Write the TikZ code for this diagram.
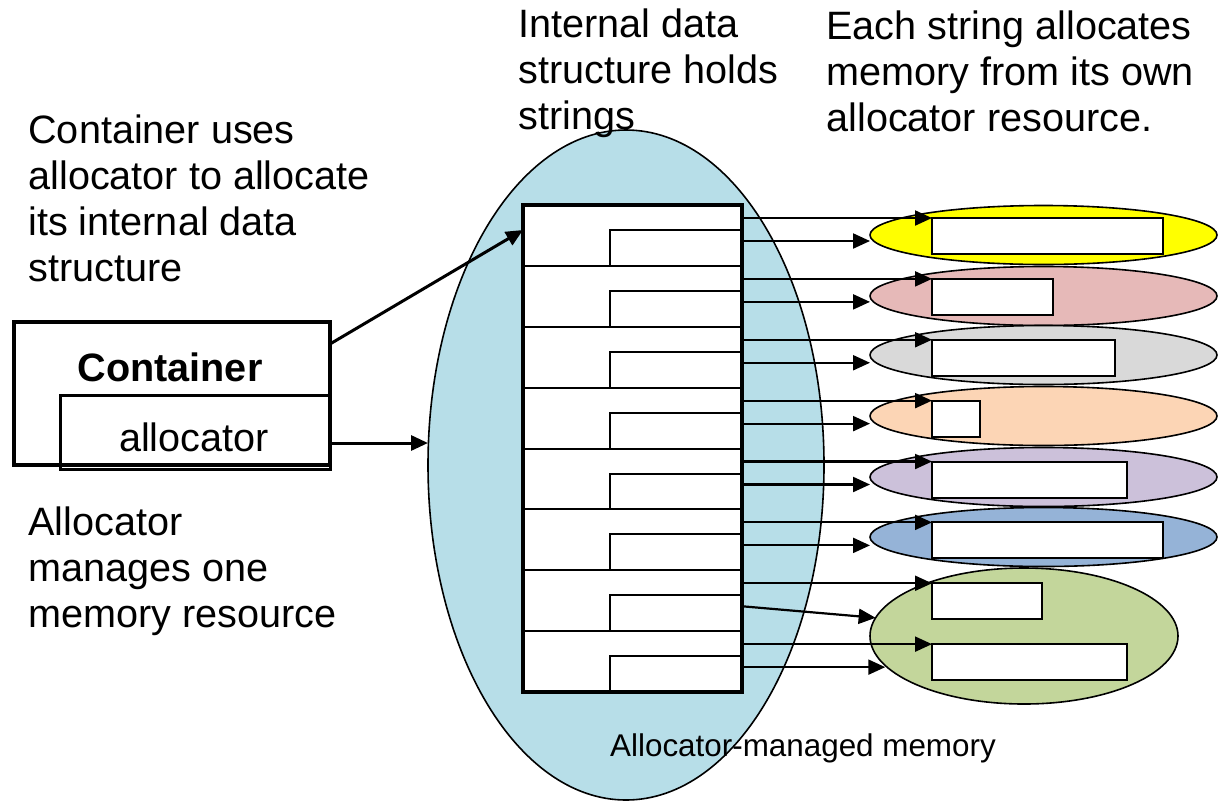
\documentclass[tikz,border=0pt]{standalone}
\usepackage{fontspec}
\setmainfont{Liberation Sans}
\usetikzlibrary{arrows.meta,shapes.geometric}
\definecolor{memblue}{HTML}{B7DEE8}
\definecolor{poolyellow}{HTML}{FFFF00}
\definecolor{poolpink}{HTML}{E6B9B8}
\definecolor{poolgray}{HTML}{D9D9D9}
\definecolor{poolorange}{HTML}{FCD5B5}
\definecolor{poolpurple}{HTML}{CCC1DA}
\definecolor{poolblue}{HTML}{95B3D7}
\definecolor{poolgreen}{HTML}{C3D69B}
\tikzset{
    note/.style={anchor=north west,inner sep=0pt,align=left,font=\fontsize{19.8}{23}\selectfont},
    ptr/.style={line width=1.1pt,-{Triangle[length=8.5pt,width=7.5pt]}},
    pool/.style={draw,ellipse,line width=0.8pt,inner sep=0pt,outer sep=0pt},
    strbox/.style={draw,fill=white,line width=1pt,anchor=north west,minimum height=18pt,inner sep=0pt,outer sep=0pt},
}
\begin{document}
\begin{tikzpicture}[x=0.5pt,y=-0.5pt]
    \useasboundingbox (0,0) rectangle (1225,804);
    %% Allocator-managed memory
    \node[pool,fill=memblue,minimum width=198pt,minimum height=335pt] (mem) at (626,465) {};
    \node[font=\fontsize{15.7}{18}\selectfont] (memlbl) at (803,748) {Allocator-managed memory};
    %% Internal data structure
    \node[draw,fill=white,line width=2.2pt,minimum width=109.5pt,minimum height=243.5pt,
        inner sep=0pt,outer sep=0pt,anchor=north west] (tab) at (523,205) {};
    \foreach \i in {1,...,8} {
        \pgfmathsetmacro\rowtop{205+(\i-1)*60.875}
        \draw[line width=1pt] (523,\rowtop+60.875) -- (742,\rowtop+60.875);
        \draw[line width=1pt] (610,\rowtop+60.875) |- (742,\rowtop+25);
        \coordinate (up\i) at (742,\rowtop+13);
        \coordinate (dn\i) at (742,\rowtop+36);
    }
    \draw[line width=2.2pt] (tab.north west) rectangle (tab.south east);
    %% One memory resource per string
    \foreach \i/\col/\y in {1/poolyellow/235,2/poolpink/296,3/poolgray/355,
                            4/poolorange/416,5/poolpurple/477,6/poolblue/537}
        \node[pool,fill=\col,minimum width=173.5pt,minimum height=29.5pt] (pool\i) at (1043.5,\y) {};
    \node[pool,fill=poolgreen,minimum width=154pt,minimum height=68pt] (pool7) at (1024,636) {};
    %% Strings
    \foreach \i/\len in {1/115.5pt,2/60.5pt,3/91.5pt,4/24pt,5/97.5pt,6/115.5pt,7/55pt,8/97.5pt}
        \node[strbox,minimum width=\len] (str\i) at (932,{205+(\i-1)*60.875+13}) {};
    %% Pointers
    \foreach \i in {1,...,8}
        \draw[ptr] (up\i) -- (str\i.north west);
    \foreach \i in {1,...,6}
        \draw[ptr] (dn\i) -- (dn\i -| pool\i.west);
    \draw[ptr] (dn7) -- (pool7.173);
    \draw[ptr] (dn8) -- (dn8 -| pool7.192);
    %% Container and its allocator
    \node[draw,line width=2pt,minimum width=158pt,minimum height=71.5pt,
        inner sep=0pt,outer sep=0pt,anchor=north west] (cont) at (14,322) {};
    \node[draw,line width=1.5pt,minimum width=135pt,minimum height=37pt,
        inner sep=0pt,outer sep=0pt,anchor=north west] (alloc) at (60,395) {};
    \node[font=\fontsize{19.8}{23}\selectfont\bfseries] (contlbl) at (170,367) {Container};
    \node[font=\fontsize{19.8}{23}\selectfont] (alloclbl) at (194,437) {allocator};
    \draw[ptr,line width=1.5pt] ([yshift=-11pt]cont.north east) -- ([yshift=-12.5pt]tab.north west);
    \draw[ptr,line width=1.5pt] ([yshift=-5.5pt]alloc.east) -- ([yshift=-5.5pt]alloc.east -| mem.west);
    %% Notes
    \node[note] (usenote) at (28,114) {Container uses\\allocator to allocate\\its internal data\\structure};
    \node[note] (mgrnote) at (28,506) {Allocator\\manages one\\memory resource};
    \node[note] (holdnote) at (518,8) {Internal data\\structure holds\\strings};
    \node[note] (ownnote) at (826,10) {Each string allocates\\memory from its own\\allocator resource.};
\end{tikzpicture}
\end{document}
